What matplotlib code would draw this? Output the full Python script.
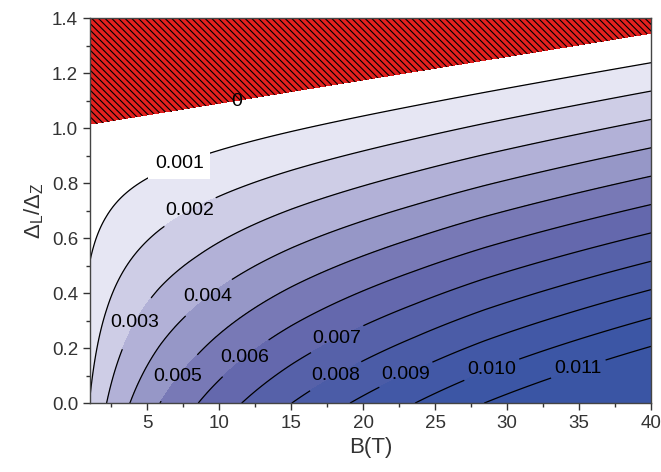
import numpy as np
import matplotlib
matplotlib.use("Agg")
import matplotlib.pyplot as plt
from matplotlib.ticker import MultipleLocator

plt.rcParams["font.family"] = ["Liberation Sans", "DejaVu Sans"]
plt.rcParams["mathtext.fontset"] = "custom"
plt.rcParams["mathtext.rm"] = "Liberation Sans"
plt.rcParams["mathtext.it"] = "Liberation Sans:italic"
plt.rcParams["mathtext.default"] = "regular"
plt.rcParams["hatch.color"] = "black"
plt.rcParams["hatch.linewidth"] = 0.8

## Data
# contour levels (0 is the edge of the hatched region)
levels = [0.0, 0.001, 0.002, 0.003, 0.004, 0.005, 0.006,
          0.007, 0.008, 0.009, 0.010, 0.011]
# edge of the hatched region (level 0), at both ends of the B axis
zero_b = [1.0, 40.0]
zero_ratio = [1.011, 1.342]
# value along the bottom edge: B where each contour meets the axis
edge_b = [1.0, 2.16, 3.78, 5.87, 8.53, 11.55, 15.03, 19.08, 23.6, 28.4, 40.0]
edge_value = [0.00204, 0.003, 0.004, 0.005, 0.006, 0.007, 0.008,
              0.009, 0.010, 0.011, 0.0130]
# fill colours, from level 0 upward
band_colors = ["#ffffff", "#e6e6f3", "#cecde6", "#b2b1d7", "#9697c7",
               "#7879b6", "#6468ad", "#5661a9", "#4b5ca7", "#4258a6",
               "#3c56a5", "#3a55a4"]
# where the contour labels sit
label_b = [11.2, 7.26, 7.95, 4.06, 9.27, 7.12, 11.64, 18.32, 18.11, 22.97, 28.94, 34.92]
label_ratio = [1.094, 0.864, 0.696, 0.295, 0.383, 0.095, 0.175, 0.219, 0.095, 0.102, 0.120, 0.128]

## Field: linear in the ratio between the bottom edge and the zero line
b_grid = np.linspace(1, 40, 500)
r_grid = np.linspace(0, 1.4, 400)
zero_line = np.interp(b_grid, zero_b, zero_ratio)
bottom = np.sqrt(np.interp(b_grid, edge_b, np.square(edge_value)))
B, R = np.meshgrid(b_grid, r_grid)
Z = bottom[None, :] * (1 - R / zero_line[None, :])

fig = plt.figure(figsize=(6.61, 4.72), dpi=100)
ax = fig.add_axes([0.136, 0.146, 0.849, 0.815])

# hatched region above the zero line
ax.contourf(B, R, Z, levels=[-1, 0], colors=["#e3211f"], hatches=["\\\\\\\\\\"])
ax.contourf(B, R, Z, levels=levels + [1], colors=band_colors)

cs = ax.contour(B, R, Z, levels=levels[1:], colors="black", linewidths=0.9)
cz = ax.contour(B, R, Z, levels=[0.0], colors="black", linewidths=0)

manual = list(zip(label_b, label_ratio))
texts = cz.clabel(fmt={0.0: "0"}, manual=manual[:1], inline=True, fontsize=14)
texts += cs.clabel(fmt="%.3f", manual=manual[1:], inline=True, fontsize=14,
                   inline_spacing=5)
for t in texts:
    t.set_rotation(0)
    if t.get_text() == "0.001":
        t.set_bbox(dict(boxstyle="square,pad=0.35", facecolor="white", edgecolor="none"))

ax.set_xlim(1, 40)
ax.set_ylim(0, 1.4)
ax.xaxis.set_major_locator(MultipleLocator(5))
ax.xaxis.set_minor_locator(MultipleLocator(2.5))
ax.yaxis.set_major_locator(MultipleLocator(0.2))
ax.yaxis.set_minor_locator(MultipleLocator(0.1))
ax.yaxis.set_major_formatter(plt.FormatStrFormatter("%.1f"))
ax.tick_params(which="both", direction="out", colors="#333333", labelcolor="#333333",
               labelsize=13.5, top=False, right=False)
ax.tick_params(which="major", length=5, width=1)
ax.tick_params(which="minor", length=3, width=1)
for s in ax.spines.values():
    s.set_color("#444444")
    s.set_linewidth(1)

ax.set_xlabel("B(T)", fontsize=16, color="#333333")
ax.set_ylabel(r"$\Delta_{L}/\Delta_{Z}$", fontsize=16, color="#333333")

fig.savefig("out.png", dpi=100)
